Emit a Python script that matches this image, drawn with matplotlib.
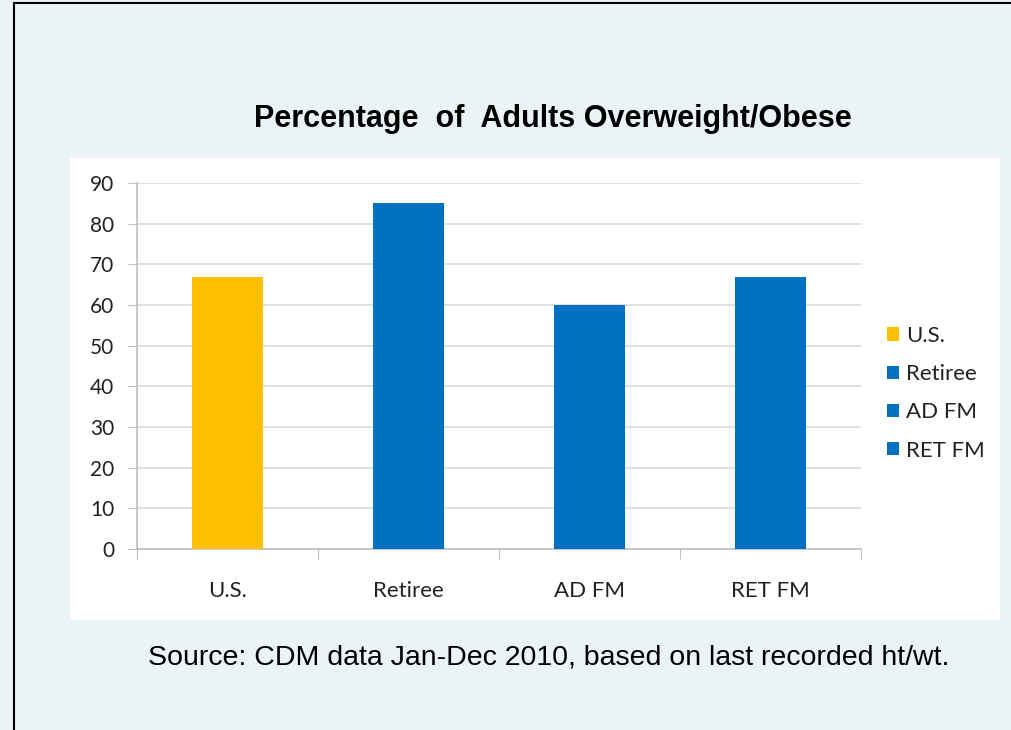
import matplotlib.pyplot as plt
from matplotlib.patches import Rectangle

categories = ["U.S.", "Retiree", "AD FM", "RET FM"]
values = [67, 85, 60, 67]
colors = ["#FFC000", "#0070C0", "#0070C0", "#0070C0"]
yticks = [0, 10, 20, 30, 40, 50, 60, 70, 80, 90]

W, H = 1011, 730
fig = plt.figure(figsize=(W / 100, H / 100), dpi=100)
fig.patch.set_facecolor("#EAF4F6")


def px(x0, y0, x1, y1):
    # pixel box (top-left origin) -> figure fraction rect
    return [x0 / W, 1 - y1 / H, (x1 - x0) / W, (y1 - y0) / H]


# outer black frame (left and top visible)
fig.add_artist(plt.Line2D([14 / W, 14 / W], [0, 1 - 3 / H], color="black", lw=1.5))
fig.add_artist(plt.Line2D([14 / W, 1], [1 - 3 / H, 1 - 3 / H], color="black", lw=1.5))

# white chart panel
r = px(70, 158, 1000, 620)
fig.add_artist(Rectangle((r[0], r[1]), r[2], r[3], transform=fig.transFigure,
                         facecolor="white", edgecolor="none", zorder=0))

ax = fig.add_axes(px(137, 183, 861, 549))
ax.set_facecolor("white")
x = range(len(categories))
bars = ax.bar(x, values, width=0.39, color=colors, zorder=3)
ax.set_xlim(-0.5, len(categories) - 0.5)
ax.set_ylim(0, 90)
ax.set_yticks(yticks)
ax.yaxis.grid(True, color="#D9D9D9", lw=1.2, zorder=0)
for s in ["top", "right"]:
    ax.spines[s].set_visible(False)
for s in ["left", "bottom"]:
    ax.spines[s].set_color("#BFBFBF")
    ax.spines[s].set_linewidth(1.2)

tick_font = "Lato"
ax.set_yticklabels([str(v) for v in yticks], fontsize=15, family=tick_font, color="#222222")
ax.tick_params(axis="y", length=6.5, color="#BFBFBF", pad=10)
ax.set_xticks([i - 0.5 for i in range(len(categories) + 1)])
ax.set_xticklabels([])
ax.tick_params(axis="x", length=7, color="#BFBFBF", direction="out")
for i, c in enumerate(categories):
    ax.text(i, -0.115, c, transform=ax.get_xaxis_transform(), ha="center", va="center",
            fontsize=16, family=tick_font, color="#222222")

leg = fig.legend([bars[0], bars[1], bars[2], bars[3]], categories, loc="upper left",
                 bbox_to_anchor=(867 / W, 1 - 306 / H), frameon=False,
                 prop={"family": tick_font, "size": 16}, handlelength=0.55, handleheight=0.55,
                 handletextpad=0.3, labelspacing=0.82)
for t in leg.get_texts():
    t.set_color("#222222")

fig.text(553 / W, 1 - 127 / H, "Percentage  of  Adults Overweight/Obese", ha="center", va="baseline",
         fontsize=22, fontweight="bold", family="Liberation Sans")
fig.text(549 / W, 1 - 665 / H, "Source: CDM data Jan-Dec 2010, based on last recorded ht/wt.",
         ha="center", va="baseline", fontsize=20.5, family="Liberation Sans")

fig.savefig("out.png", dpi=100, facecolor=fig.get_facecolor())
